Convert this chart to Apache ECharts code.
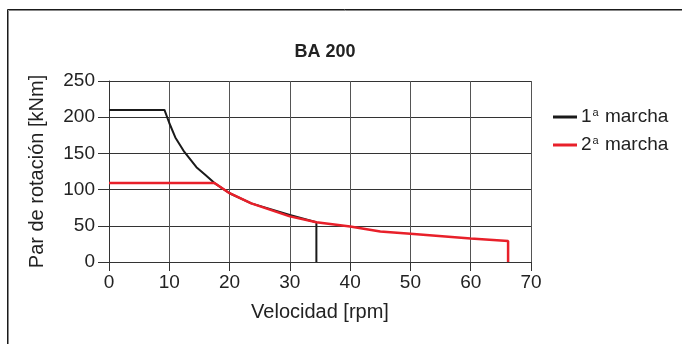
<!DOCTYPE html>
<html>
<head>
<meta charset="utf-8">
<script src="https://cdn.jsdelivr.net/npm/echarts@6/dist/echarts.min.js"></script>
<style>
  html, body { margin: 0; padding: 0; background: #fff; }
  #main { width: 682px; height: 344px; }
</style>
</head>
<body>
<div id="main"></div>
<script>
// 1a marcha (rpm, kNm)
var gear1Speed  = [0, 9.2, 10, 11, 12.5, 14.5, 16, 17.5, 20, 23.6, 30, 34.4, 34.4];
var gear1Torque = [210, 210, 192, 172, 152, 131, 120, 109, 95, 81, 65, 55, 0];
// 2a marcha
var gear2Speed  = [0, 17.5, 20, 23.6, 30, 34.4, 40, 45, 50, 60, 66.2, 66.2];
var gear2Torque = [109, 109, 95, 81, 63, 55, 49, 42, 39, 32.5, 29, 0];

var xTicks = [0, 10, 20, 30, 40, 50, 60, 70];
var yTicks = [0, 50, 100, 150, 200, 250];

function pairs(xs, ys) {
    return xs.map(function (x, i) { return [x, ys[i]]; });
}

var chart = echarts.init(document.getElementById('main'));
var font = 'Liberation Sans, Arial, sans-serif';

var option = {
    animation: false,
    textStyle: { fontFamily: font },
    title: {
        text: 'BA 200',
        left: 320,
        textAlign: 'center',
        top: 38,
        textStyle: { fontSize: 18, fontWeight: 'bold', color: '#222', fontFamily: font }
    },
    legend: {
        orient: 'vertical',
        left: 548,
        top: 102,
        itemWidth: 24,
        itemHeight: 3,
        itemGap: 8,
        icon: 'rect',
        selectedMode: false,
        data: ['1', '2'],
        formatter: function (name) { return name + '{sup|a} marcha'; },
        textStyle: {
            fontSize: 19,
            lineHeight: 20,
            color: '#222',
            padding: [0, 0, 0, -1],
            rich: {
                sup: { fontSize: 11, verticalAlign: 'top', lineHeight: 20, padding: [0, 1, 9, 1], color: '#222' }
            }
        }
    },
    graphic: [
        { type: 'polyline', silent: true, shape: { points: [[7.5, 344], [7.5, 9.5], [682, 9.5]] }, style: { stroke: '#1a1a1a', lineWidth: 1, fill: null } },
        { type: 'polyline', silent: true, shape: { points: [[8.5, 344], [8.5, 10.5], [682, 10.5]] }, style: { stroke: '#888', lineWidth: 1, fill: null } }
    ],
    grid: { left: 109, right: 151, top: 81, bottom: 82 },
    xAxis: {
        type: 'value',
        min: xTicks[0],
        max: xTicks[xTicks.length - 1],
        interval: 10,
        name: 'Velocidad [rpm]',
        nameLocation: 'middle',
        nameGap: 40,
        nameTextStyle: { fontSize: 20, color: '#222' },
        axisLine: { show: true, lineStyle: { color: '#333', width: 1 } },
        axisTick: { show: true, length: 9, lineStyle: { color: '#333' } },
        axisLabel: { fontSize: 19, color: '#222', margin: 11 },
        splitLine: { show: true, lineStyle: { color: '#555', width: 1 } }
    },
    yAxis: {
        type: 'value',
        min: yTicks[0],
        max: yTicks[yTicks.length - 1],
        interval: 50,
        name: 'Par de rotación [kNm]',
        nameLocation: 'middle',
        nameGap: 62,
        nameTextStyle: { fontSize: 20, color: '#222' },
        axisLine: { show: true, lineStyle: { color: '#333', width: 1 } },
        axisTick: { show: true, length: 11, lineStyle: { color: '#333' } },
        axisLabel: { fontSize: 19, color: '#222', margin: 14 },
        splitLine: { show: true, lineStyle: { color: '#333', width: 1 } }
    },
    series: [
        {
            name: '1',
            type: 'line',
            showSymbol: false,
            symbol: 'none',
            color: '#1a1a1a',
            lineStyle: { color: '#1a1a1a', width: 2 },
            data: pairs(gear1Speed, gear1Torque)
        },
        {
            name: '2',
            type: 'line',
            showSymbol: false,
            symbol: 'none',
            color: '#e8202a',
            lineStyle: { color: '#e8202a', width: 2.5 },
            data: pairs(gear2Speed, gear2Torque)
        }
    ]
};

chart.setOption(option);
</script>
</body>
</html>
